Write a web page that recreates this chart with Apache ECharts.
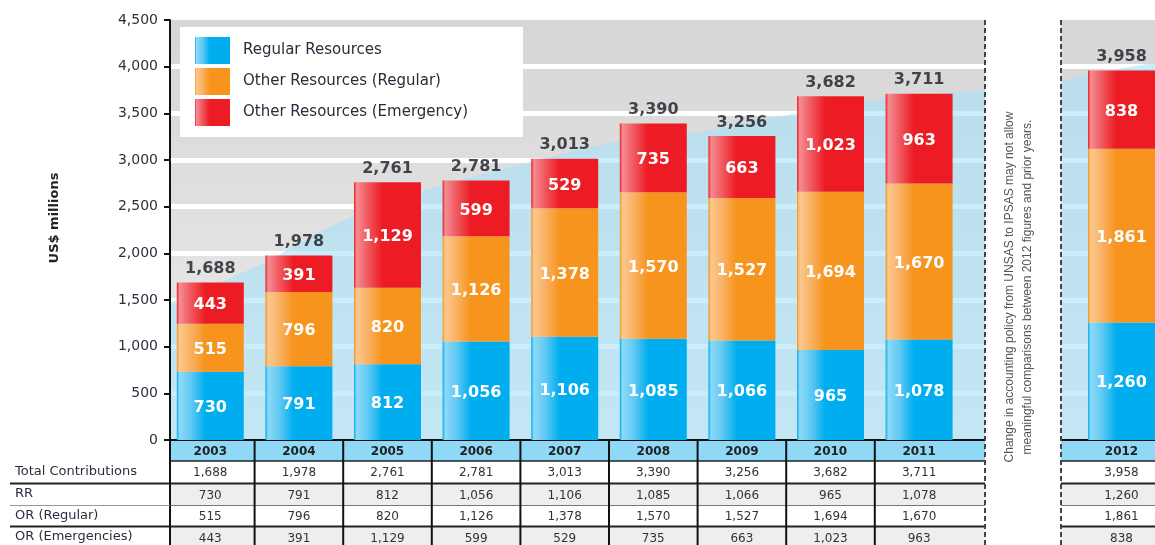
<!DOCTYPE html>
<html><head><meta charset="utf-8">
<script src="https://cdn.jsdelivr.net/npm/echarts@6/dist/echarts.min.js"></script>
<style>html,body{margin:0;padding:0;background:#fff}#c{width:1155px;height:545px}</style>
</head><body><div id="c"></div>
<script>
// ---------- DATA ----------
const years = ['2003', '2004', '2005', '2006', '2007', '2008', '2009', '2010', '2011'];
const regularResources = [730, 791, 812, 1056, 1106, 1085, 1066, 965, 1078];
const otherRegular = [515, 796, 820, 1126, 1378, 1570, 1527, 1694, 1670];
const otherEmergency = [443, 391, 1129, 599, 529, 735, 663, 1023, 963];
const totals = [1688, 1978, 2761, 2781, 3013, 3390, 3256, 3682, 3711];

const years2012 = ['2012'];
const regularResources2012 = [1260];
const otherRegular2012 = [1861];
const otherEmergency2012 = [838];
const totals2012 = [3958];

// background trend band (light blue area) (x in years)
const trendYears = [2002.55, 2003.5, 2004.5, 2005.5, 2006.5, 2007.5, 2008.5, 2009.5, 2010.5, 2011.5, 2011.75];
const trendValues = [1470, 1850, 2350, 2700, 2950, 3180, 3300, 3480, 3645, 3730, 3750];
const trendYears2012 = [2011.32, 2011.62, 2012.38];
const trendValues2012 = [3850, 3920, 4040];

const yMin = 0, yMax = 4500, yStep = 500;
const seriesNames = ['Regular Resources', 'Other Resources (Regular)', 'Other Resources (Emergency)'];
const rowLabels = ['Total Contributions', 'RR', 'OR (Regular)', 'OR (Emergencies)'];
const axisTitle = 'US$ millions';
const noteText = 'Change in accounting policy from UNSAS to IPSAS may not allow\nmeaningful comparisons between 2012 figures and prior years.';

// ---------- HELPERS ----------
const FONT = '"DejaVu Sans", "Liberation Sans", sans-serif';
const fmt = v => Number(v).toLocaleString('en-US');
function gloss(base, light, mid) {
  return {type: 'linear', x: 0, y: 0, x2: 1, y2: 0, colorStops: [
    {offset: 0, color: base}, {offset: 0.04, color: light}, {offset: 0.22, color: mid},
    {offset: 0.42, color: base}, {offset: 1, color: base}]};
}
const colors = [
  gloss('#00aeef', '#8fd9f7', '#5cc8f3'),
  gloss('#f7941d', '#fbc88e', '#f9b061'),
  gloss('#ed1c24', '#f48d93', '#f0555b')
];
const bgGrad = {type: 'linear', x: 0, y: 0, x2: 0, y2: 1, colorStops: [
  {offset: 0, color: '#d6d6d6'}, {offset: 1, color: '#ececec'}]};
const AREA = 'rgba(165,225,252,0.58)';

// table rows relative to the zero line of the value axis
const ROWS = [
  {top: 1, h: 20, fill: '#8fd8f6'},
  {top: 21, h: 22, fill: '#ffffff'},
  {top: 44, h: 21, fill: '#eeeeee'},
  {top: 66, h: 20, fill: '#ffffff'},
  {top: 87, h: 22, fill: '#eeeeee'}
];

function makeTable(cats, bounds, drawLeft) {
  const count = cats.length;
  return function (params, api) {
    const idx = params.dataIndexInside;
    const p = api.coord([api.value(0), 0]);
    const cx = p[0], y0 = p[1];
    const half = api.size([1, 0])[0] / 2;
    const left = idx === 0 ? bounds[0] : cx - half;
    const right = idx === count - 1 ? bounds[1] : cx + half;
    const texts = [cats[idx], fmt(api.value(1)), fmt(api.value(2)), fmt(api.value(3)), fmt(api.value(4))];
    const children = [];
    ROWS.forEach(r => {
      children.push({type: 'rect', shape: {x: left, y: y0 + r.top, width: right - left, height: r.h},
        style: {fill: r.fill}});
    });
    ROWS.forEach((r, k) => {
      children.push({type: 'text', style: {text: texts[k], x: cx, y: y0 + r.top + r.h / 2 + 1,
        align: 'center', verticalAlign: 'middle', textAlign: 'center', textVerticalAlign: 'middle',
        font: (k === 0 ? 'bold 12px ' : '12px ') + FONT, fill: k === 0 ? '#222' : '#333'}});
    });
    const hl = [[21, 1.5, '#222'], [43.5, 2, '#222'], [65.5, 1, '#777'], [86.5, 2, '#222']];
    hl.forEach(h => children.push({type: 'line', shape: {x1: left, y1: y0 + h[0], x2: right, y2: y0 + h[0]},
      style: {stroke: h[2], lineWidth: h[1]}}));
    if (drawLeft || idx > 0) {
      children.push({type: 'line', shape: {x1: left, y1: y0, x2: left, y2: y0 + 110},
        style: {stroke: '#111', lineWidth: 2}});
    }
    return {type: 'group', children};
  };
}

function barSeries(name, data, xi, yi, stack, color) {
  return {
    name, type: 'bar', stack, xAxisIndex: xi, yAxisIndex: yi, barWidth: 67, z: 4,
    data, itemStyle: {color},
    label: {show: true, position: 'inside', offset: [0, 2], color: '#fff', fontFamily: FONT,
      fontWeight: 'bold', fontSize: 16, formatter: p => fmt(p.value)},
    emphasis: {disabled: true}
  };
}
function totalSeries(data, xi, yi) {
  return {type: 'scatter', xAxisIndex: xi, yAxisIndex: yi, z: 5, symbolSize: 1, silent: true,
    itemStyle: {color: 'rgba(0,0,0,0)'}, data,
    label: {show: true, position: 'top', distance: 5, color: '#1a1a24', fontFamily: FONT, fontWeight: 'bold',
      fontSize: 16, formatter: p => fmt(p.value)}};
}
const pair = (xs, vs) => xs.map((x, i) => [x, vs[i]]);

const hiddenAxis = {axisLine: {show: false}, axisTick: {show: false}, axisLabel: {show: false}, splitLine: {show: false}};
const splitY = {type: 'value', min: yMin, max: yMax, interval: yStep, z: 1,
  axisLine: {show: false}, axisTick: {show: false}, axisLabel: {show: false},
  splitLine: {show: true, showMinLine: false, showMaxLine: false, lineStyle: {color: '#ffffff', width: 5}}};
const baseLine = {axisLine: {show: true, onZero: false, lineStyle: {color: '#111', width: 2}},
  axisTick: {show: false}, axisLabel: {show: false}, splitLine: {show: false}};

const option = {
  animation: false,
  grid: [
    {left: 170, top: 20, width: 815, height: 420, show: true, backgroundColor: bgGrad, borderWidth: 0, z: 0},
    {left: 1061, top: 20, width: 94, height: 420, show: true, backgroundColor: bgGrad, borderWidth: 0, z: 0},
    {left: 166, top: 20, width: 797.4, height: 420, show: false},
    {left: 1088, top: 20, width: 67, height: 420, show: false}
  ],
  xAxis: [
    Object.assign({type: 'value', gridIndex: 0, min: 2002.549, max: 2011.745, z: 3}, baseLine),
    Object.assign({type: 'value', gridIndex: 1, min: 2011.317, max: 2012.378, z: 3}, baseLine),
    Object.assign({type: 'category', gridIndex: 2, data: years}, hiddenAxis),
    Object.assign({type: 'category', gridIndex: 3, data: years2012}, hiddenAxis)
  ],
  yAxis: [
    Object.assign({gridIndex: 0, position: 'left'}, splitY),
    {type: 'value', gridIndex: 0, position: 'left', min: yMin, max: yMax, interval: yStep, z: 6,
      axisLine: {show: true, lineStyle: {color: '#111', width: 2}},
      axisTick: {show: true, length: 6, lineStyle: {color: '#111', width: 2}},
      axisLabel: {show: true, margin: 12, color: '#2e2e3e', fontFamily: FONT, fontSize: 14,
        formatter: v => fmt(v)},
      splitLine: {show: false}},
    Object.assign({gridIndex: 1, position: 'left'}, splitY),
    Object.assign({type: 'value', gridIndex: 2, min: yMin, max: yMax, interval: yStep}, hiddenAxis),
    Object.assign({type: 'value', gridIndex: 3, min: yMin, max: yMax, interval: yStep}, hiddenAxis)
  ],
  legend: {
    orient: 'vertical', left: 195, top: 37, itemWidth: 35, itemHeight: 27, itemGap: 4, padding: 0,
    icon: 'rect', selectedMode: false, z: 8, data: seriesNames,
    textStyle: {fontFamily: FONT, fontSize: 15, color: '#2b2b3b', padding: [0, 0, 0, 8]}
  },
  graphic: [
    {type: 'rect', z: 7, shape: {x: 180, y: 27, width: 343, height: 110}, style: {fill: '#ffffff'}},
    {type: 'text', z: 7, x: 55, y: 218, rotation: Math.PI / 2,
      style: {text: axisTitle, font: 'bold 13px ' + FONT, fill: '#222', align: 'center', verticalAlign: 'middle',
        textAlign: 'center', textVerticalAlign: 'middle'}},
    {type: 'text', z: 7, x: 1019, y: 287, rotation: Math.PI / 2,
      style: {text: noteText, font: '12px "Liberation Sans", sans-serif', fill: '#555', lineHeight: 18,
        align: 'center', verticalAlign: 'middle', textAlign: 'center', textVerticalAlign: 'middle'}},
    {type: 'line', z: 7, shape: {x1: 985, y1: 20, x2: 985, y2: 545}, style: {stroke: '#444', lineWidth: 2, lineDash: [5, 3]}},
    {type: 'line', z: 7, shape: {x1: 1061, y1: 20, x2: 1061, y2: 545}, style: {stroke: '#444', lineWidth: 2, lineDash: [5, 3]}},
    {type: 'line', z: 7, shape: {x1: 10, y1: 483.5, x2: 170, y2: 483.5}, style: {stroke: '#222', lineWidth: 2}},
    {type: 'line', z: 7, shape: {x1: 10, y1: 505.5, x2: 170, y2: 505.5}, style: {stroke: '#999', lineWidth: 1}},
    {type: 'line', z: 7, shape: {x1: 10, y1: 526.5, x2: 170, y2: 526.5}, style: {stroke: '#222', lineWidth: 2}}
  ].concat(rowLabels.map((t, i) => ({type: 'text', z: 7, x: 15, y: [472, 494, 516, 537][i],
    style: {text: t, font: '13px ' + FONT, fill: '#2d2d3d', align: 'left', verticalAlign: 'middle',
      textAlign: 'left', textVerticalAlign: 'middle'}}))),
  series: [
    {type: 'line', name: 'trend', xAxisIndex: 0, yAxisIndex: 0, z: 2, smooth: 0.4, symbol: 'none', silent: true,
      data: pair(trendYears, trendValues), lineStyle: {width: 0}, areaStyle: {color: AREA, opacity: 1}},
    {type: 'line', name: 'trend2012', xAxisIndex: 1, yAxisIndex: 2, z: 2, smooth: 0.4, symbol: 'none', silent: true,
      data: pair(trendYears2012, trendValues2012), lineStyle: {width: 0}, areaStyle: {color: AREA, opacity: 1}},
    barSeries(seriesNames[0], regularResources, 2, 3, 'main', colors[0]),
    barSeries(seriesNames[1], otherRegular, 2, 3, 'main', colors[1]),
    barSeries(seriesNames[2], otherEmergency, 2, 3, 'main', colors[2]),
    barSeries(seriesNames[0], regularResources2012, 3, 4, 'y2012', colors[0]),
    barSeries(seriesNames[1], otherRegular2012, 3, 4, 'y2012', colors[1]),
    barSeries(seriesNames[2], otherEmergency2012, 3, 4, 'y2012', colors[2]),
    totalSeries(totals, 2, 3),
    totalSeries(totals2012, 3, 4),
    {type: 'custom', xAxisIndex: 2, yAxisIndex: 3, z: 4, silent: true, clip: false,
      data: years.map((y, i) => [i, totals[i], regularResources[i], otherRegular[i], otherEmergency[i]]),
      renderItem: makeTable(years, [170, 985], true)},
    {type: 'custom', xAxisIndex: 3, yAxisIndex: 4, z: 4, silent: true, clip: false,
      data: years2012.map((y, i) => [i, totals2012[i], regularResources2012[i], otherRegular2012[i], otherEmergency2012[i]]),
      renderItem: makeTable(years2012, [1061, 1160], false)}
  ]
};
const chart = echarts.init(document.getElementById('c'), null, {renderer: 'canvas'});
chart.setOption(option);
</script></body></html>
